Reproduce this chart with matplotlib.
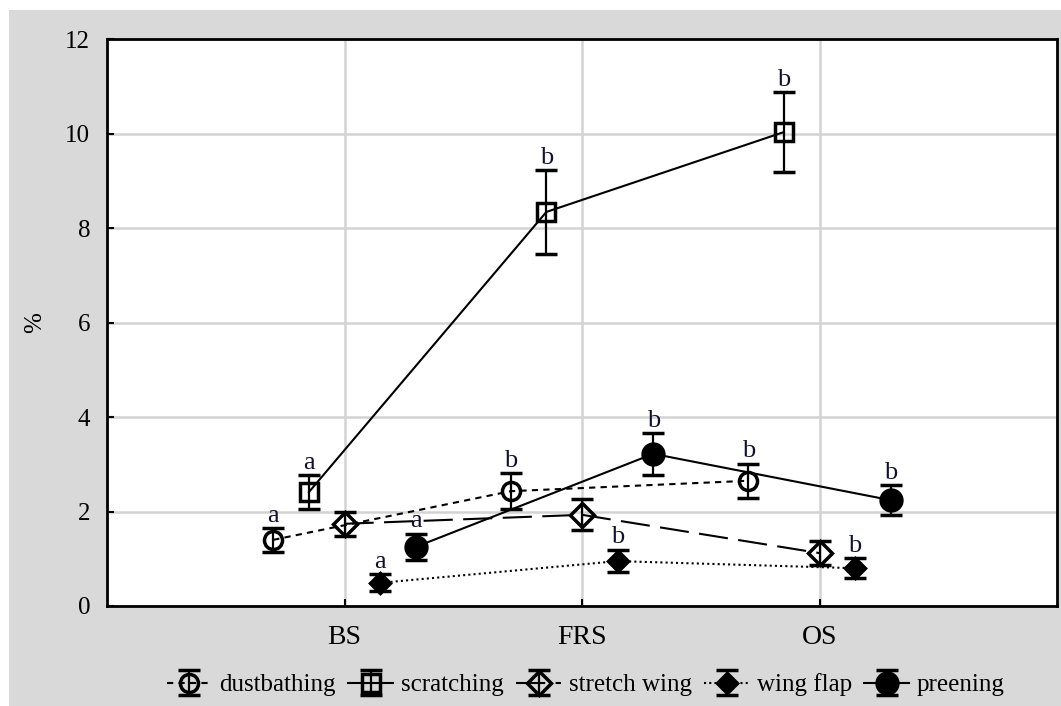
import numpy as np
import matplotlib
matplotlib.use("Agg")
import matplotlib.pyplot as plt
from matplotlib.patches import Rectangle

plt.rcParams['font.family'] = ['Liberation Serif', 'DejaVu Serif']

# categories on the x axis
groups = ["BS", "FRS", "OS"]

# mean values (%)
dustbathing = [1.40, 2.43, 2.65]
scratching = [2.41, 8.34, 10.03]
stretch_wing = [1.74, 1.93, 1.12]
wing_flap = [0.49, 0.95, 0.80]
preening = [1.25, 3.22, 2.24]

# error bar half widths
dustbathing_err = [0.25, 0.38, 0.36]
scratching_err = [0.36, 0.88, 0.84]
stretch_wing_err = [0.26, 0.33, 0.25]
wing_flap_err = [0.18, 0.24, 0.21]
preening_err = [0.28, 0.44, 0.32]

# letters above the bars (stretch wing has none)
letters = ["a", "b", "b"]
no_letters = ["", "", ""]

series = [
    ("dustbathing", dustbathing, dustbathing_err, -0.3, letters,
     dict(marker="o", ms=13, mfc="none", ls=(0, (3, 2.5)))),
    ("scratching", scratching, scratching_err, -0.15, letters,
     dict(marker="s", ms=13, mfc="none", ls="-")),
    ("stretch wing", stretch_wing, stretch_wing_err, 0.0, no_letters,
     dict(marker="D", ms=12, mfc="none", ls=(0, (14, 5)))),
    ("wing flap", wing_flap, wing_flap_err, 0.15, letters,
     dict(marker="D", ms=10, mfc="black", ls=(0, (1, 1.5)))),
    ("preening", preening, preening_err, 0.3, letters,
     dict(marker="o", ms=15, mfc="black", ls="-")),
]

fig = plt.figure(figsize=(10.61, 7.06), dpi=100)
fig.patch.set_facecolor("white")
# grey panel behind the chart
fig.patches.append(Rectangle((9 / 1061, 0), 1, 1 - 10 / 706, transform=fig.transFigure,
                             facecolor="#d9d9d9", edgecolor="none", zorder=-10))

ax = fig.add_axes([107 / 1061, 1 - 606 / 706, 950 / 1061, 567 / 706])
ax.set_facecolor("white")

x = np.arange(1, len(groups) + 1)
handles = []
for name, vals, err, off, labs, style in series:
    xs = x + off
    h = ax.errorbar(xs, vals, yerr=err, color="black", lw=1.5, mew=2.5, mec="black",
                    elinewidth=1.6, capsize=8, capthick=2, label=name, zorder=3, **style)
    handles.append(h)
    for xi, v, e, lab in zip(xs, vals, err, labs):
        if lab:
            ax.annotate(lab, (xi, v + e), xytext=(0, 1), textcoords="offset points",
                        ha="center", va="bottom", fontsize=19, color="#101030")

ax.set_xlim(0, 4)
ax.set_ylim(0, 12)
ax.set_xticks(x)
ax.set_xticklabels(groups, fontsize=20)
ax.set_yticks(np.arange(0, 13, 2))
ax.tick_params(axis="y", labelsize=18, direction="in", length=5, width=1.5, pad=12)
ax.tick_params(axis="x", direction="in", length=5, width=1.5, pad=14)
ax.grid(True, color="#d3d3d3", lw=1.8, zorder=0)
ax.set_axisbelow(True)
for sp in ax.spines.values():
    sp.set_linewidth(2)

ax.set_ylabel("%", fontsize=18)
ax.yaxis.set_label_coords(-0.064, 0.5)

fig.legend(handles=handles, loc="center", bbox_to_anchor=(0.552, 0.03), ncol=5,
           frameon=False, fontsize=18, handlelength=1.8, handletextpad=0.3,
           columnspacing=0.5)

fig.savefig("out.png", dpi=100, facecolor=fig.get_facecolor())
